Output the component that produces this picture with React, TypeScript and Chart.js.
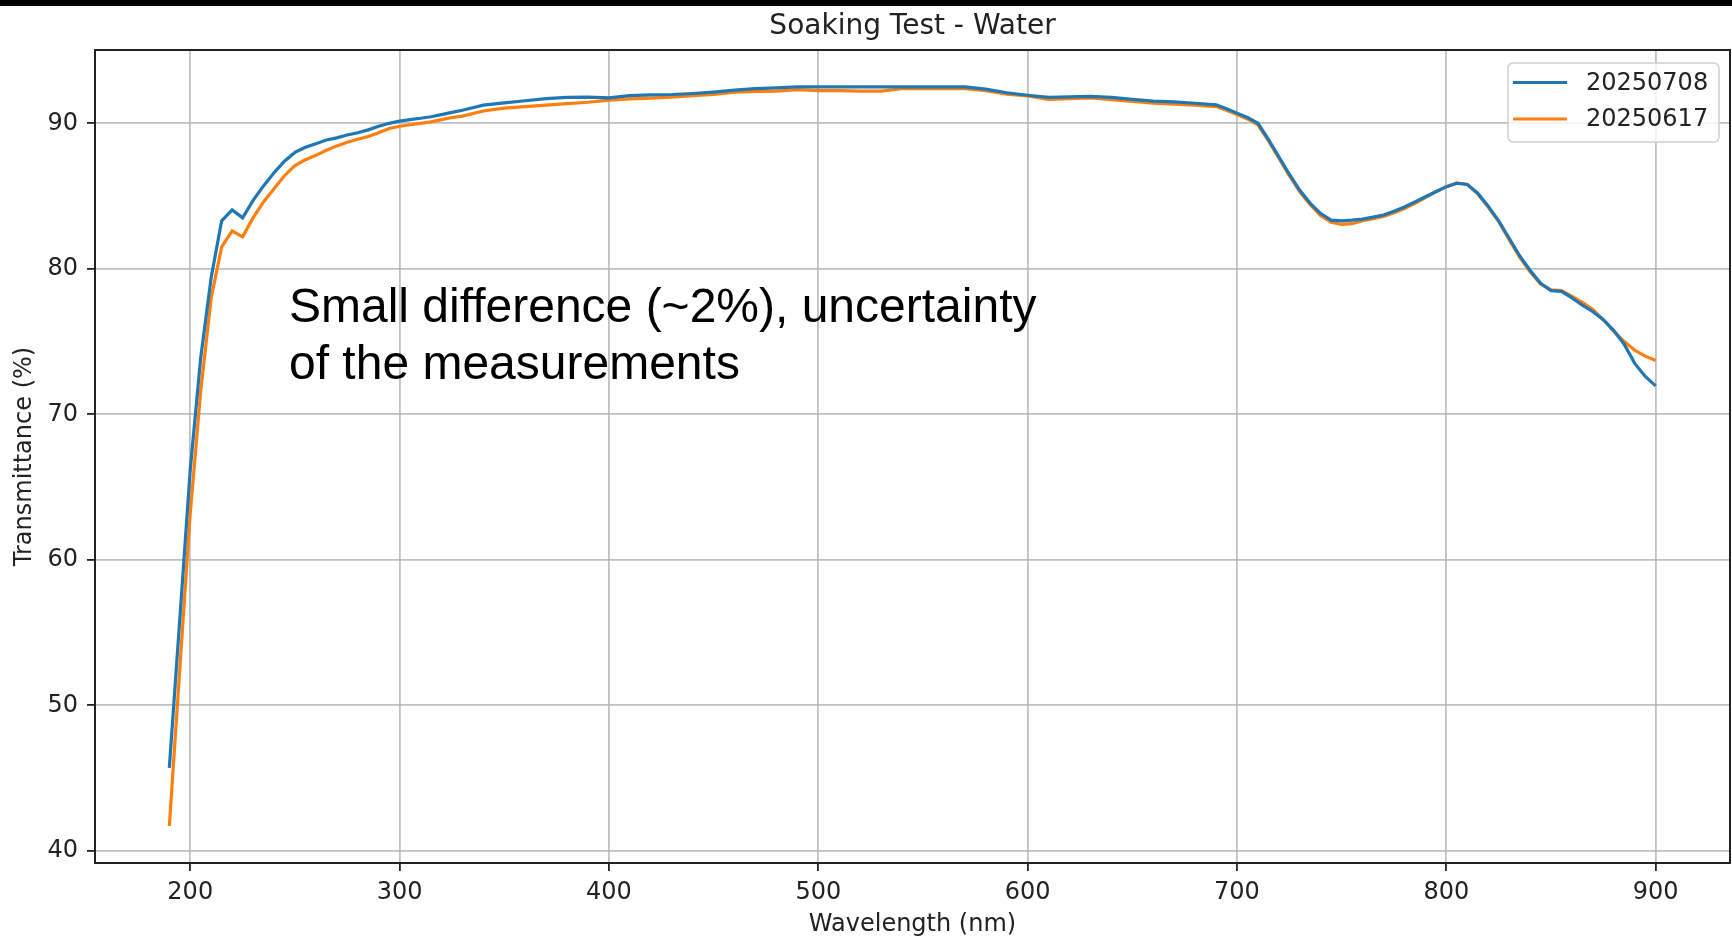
import React, { useEffect, useRef } from "react";
import { Chart, registerables } from "chart.js";

Chart.register(...registerables);

// ---------- data ----------
const wavelengths = [
  190, 195, 200, 205, 210, 215, 220, 225, 230, 235, 240, 245, 250, 255, 260, 265, 270, 275, 280, 285, 290, 295,
  300, 305, 310, 315, 320, 325, 330, 340, 350, 360, 370, 380, 390, 400, 410, 420, 430, 440, 450, 460, 470, 480,
  490, 500, 510, 520, 530, 540, 550, 560, 570, 580, 590, 600, 610, 620, 630, 640, 650, 660, 670, 680, 690, 695,
  700, 705, 710, 715, 720, 725, 730, 735, 740, 745, 750, 755, 760, 765, 770, 775, 780, 785, 790, 795, 800, 805,
  810, 815, 820, 825, 830, 835, 840, 845, 850, 855, 860, 865, 870, 875, 880, 885, 890, 895, 900,
];

const series20250708 = [
  45.7, 55.9, 66.2, 73.9, 79.4, 83.3, 84.05, 83.5, 84.7, 85.7, 86.6, 87.4, 88.0, 88.35, 88.6, 88.85, 89.0, 89.2,
  89.35, 89.55, 89.8, 90.0, 90.15, 90.25, 90.35, 90.45, 90.6, 90.75, 90.9, 91.25, 91.4, 91.55, 91.7, 91.78, 91.8,
  91.75, 91.9, 91.95, 91.98, 92.05, 92.15, 92.28, 92.38, 92.43, 92.5, 92.5, 92.5, 92.5, 92.5, 92.5, 92.5, 92.5,
  92.5, 92.35, 92.1, 91.93, 91.78, 91.82, 91.85, 91.78, 91.65, 91.52, 91.47, 91.38, 91.27, 91.0, 90.7, 90.4, 90.0,
  88.9, 87.7, 86.5, 85.4, 84.5, 83.8, 83.35, 83.3, 83.35, 83.42, 83.55, 83.7, 83.95, 84.25, 84.6, 84.95, 85.3,
  85.65, 85.88, 85.8, 85.2, 84.3, 83.3, 82.1, 80.9, 79.9, 79.0, 78.5, 78.45, 78.0, 77.5, 77.05, 76.5, 75.75, 74.8,
  73.5, 72.6, 71.95,
];

const series20250617 = [
  41.7, 52.5, 63.2, 71.6, 78.0, 81.5, 82.6, 82.2, 83.5, 84.6, 85.5, 86.4, 87.1, 87.5, 87.8, 88.15, 88.45, 88.7,
  88.9, 89.1, 89.35, 89.65, 89.8, 89.9, 90.0, 90.1, 90.25, 90.4, 90.5, 90.85, 91.05, 91.15, 91.25, 91.35, 91.45,
  91.6, 91.68, 91.73, 91.8, 91.9, 91.98, 92.15, 92.2, 92.22, 92.32, 92.25, 92.25, 92.22, 92.22, 92.38, 92.38,
  92.38, 92.38, 92.25, 92.0, 91.88, 91.65, 91.7, 91.75, 91.62, 91.5, 91.38, 91.32, 91.25, 91.15, 90.9, 90.6,
  90.3, 89.9, 88.8, 87.6, 86.4, 85.3, 84.4, 83.65, 83.2, 83.05, 83.1, 83.3, 83.45, 83.6, 83.85, 84.15, 84.5, 84.9,
  85.3, 85.65, 85.9, 85.8, 85.15, 84.25, 83.25, 82.0, 80.8, 79.8, 78.95, 78.55, 78.5, 78.1, 77.7, 77.2, 76.5,
  75.7, 75.0, 74.4, 74.0, 73.7,
];

const seriesLabels = ["20250708", "20250617"];
const seriesColors = ["#1f77b4", "#ff7f0e"];
const xTicks = [200, 300, 400, 500, 600, 700, 800, 900];
const yTicks = [40, 50, 60, 70, 80, 90];
const chartTitle = "Soaking Test - Water";
const xTitle = "Wavelength (nm)";
const yTitle = "Transmittance (%)";
const noteLines = ["Small difference (~2%), uncertainty", "of the measurements"];

// ---------- helpers ----------
const W = 1732;
const H = 941;
const FONT = '"DejaVu Sans", sans-serif';

function paddedRange(values: number[]): [number, number] {
  const lo = Math.min(...values);
  const hi = Math.max(...values);
  const m = (hi - lo) * 0.05;
  return [lo - m, hi + m];
}

const overlayPlugin = {
  id: "overlay",
  beforeDraw(chart: any) {
    const { ctx } = chart;
    ctx.save();
    ctx.fillStyle = "#ffffff";
    ctx.fillRect(0, 0, chart.width, chart.height);
    ctx.fillStyle = "#000000";
    ctx.fillRect(0, 0, chart.width, 6);
    ctx.restore();
  },
  afterDraw(chart: any) {
    const { ctx, chartArea: a } = chart;
    ctx.save();
    // spines
    ctx.strokeStyle = "#222222";
    ctx.lineWidth = 2;
    ctx.strokeRect(a.left, a.top, a.right - a.left, a.bottom - a.top);

    // title
    ctx.fillStyle = "#222222";
    ctx.font = `28px ${FONT}`;
    ctx.textAlign = "center";
    ctx.textBaseline = "alphabetic";
    ctx.fillText(chartTitle, (a.left + a.right) / 2, 34);

    // legend (matplotlib style, upper right)
    const lw = 211;
    const lh = 79;
    const lx = a.right - 11 - lw;
    const ly = a.top + 13;
    ctx.beginPath();
    ctx.roundRect(lx, ly, lw, lh, 5);
    ctx.fillStyle = "rgba(255,255,255,0.8)";
    ctx.fill();
    ctx.strokeStyle = "#d0d0d0";
    ctx.lineWidth = 1.5;
    ctx.stroke();
    chart.data.datasets.forEach((ds: any, i: number) => {
      const cy = ly + 19.5 + i * 36.5;
      ctx.beginPath();
      ctx.moveTo(lx + 5, cy);
      ctx.lineTo(lx + 59, cy);
      ctx.strokeStyle = ds.borderColor;
      ctx.lineWidth = 3.2;
      ctx.stroke();
      ctx.fillStyle = "#222222";
      ctx.font = `24px ${FONT}`;
      ctx.textAlign = "left";
      ctx.textBaseline = "middle";
      ctx.fillText(ds.label, lx + 78, cy + 1);
    });

    // annotation text
    ctx.fillStyle = "#000000";
    ctx.font = '48px "Liberation Sans", Arial, sans-serif';
    ctx.textAlign = "left";
    ctx.textBaseline = "alphabetic";
    noteLines.forEach((line, i) => ctx.fillText(line, 289, 322 + i * 57));
    ctx.restore();
  },
};

export default function App() {
  const canvasRef = useRef<HTMLCanvasElement | null>(null);

  useEffect(() => {
    const canvas = canvasRef.current;
    if (!canvas) return;
    const [xMin, xMax] = paddedRange(wavelengths);
    const [yMin, yMax] = paddedRange([...series20250708, ...series20250617]);
    const seriesValues = [series20250708, series20250617];

    const chart = new Chart(canvas, {
      type: "line",
      data: {
        datasets: seriesValues.map((vals, i) => ({
          label: seriesLabels[i],
          data: wavelengths.map((w, j) => ({ x: w, y: vals[j] })),
          borderColor: seriesColors[i],
          backgroundColor: seriesColors[i],
          borderWidth: 3.2,
          pointRadius: 0,
          tension: 0,
          fill: false,
        })),
      },
      options: {
        responsive: false,
        animation: false,
        devicePixelRatio: 1,
        layout: { padding: { top: 50, left: 0, right: 2, bottom: 0 } },
        plugins: {
          legend: { display: false },
          title: { display: false },
          tooltip: { enabled: false },
        },
        scales: {
          x: {
            type: "linear",
            min: xMin,
            max: xMax,
            afterBuildTicks: (s: any) => {
              s.ticks = xTicks.map((v) => ({ value: v }));
            },
            afterFit: (s: any) => {
              s.height = 78;
            },
            grid: {
              color: "rgba(176,176,176,0.8)",
              lineWidth: 1.8,
              tickColor: "#222222",
              tickWidth: 1.8,
              tickLength: 8,
            },
            border: { display: false },
            ticks: {
              color: "#222222",
              font: { family: FONT, size: 24 },
              padding: 7,
              maxRotation: 0,
              autoSkip: false,
              callback: (v: any) => String(v),
            },
            title: {
              display: true,
              text: xTitle,
              color: "#222222",
              font: { family: FONT, size: 24 },
              padding: { top: 0, bottom: 2 },
            },
          },
          y: {
            type: "linear",
            min: yMin,
            max: yMax,
            afterBuildTicks: (s: any) => {
              s.ticks = yTicks.map((v) => ({ value: v }));
            },
            afterFit: (s: any) => {
              s.width = 95;
            },
            grid: {
              color: "rgba(176,176,176,0.8)",
              lineWidth: 1.8,
              tickColor: "#222222",
              tickWidth: 1.8,
              tickLength: 8,
            },
            border: { display: false },
            ticks: {
              color: "#222222",
              font: { family: FONT, size: 24 },
              padding: 9,
              autoSkip: false,
              callback: (v: any) => String(v),
            },
            title: {
              display: true,
              text: yTitle,
              color: "#222222",
              font: { family: FONT, size: 24 },
              padding: { top: 10, bottom: 0 },
            },
          },
        },
      },
      plugins: [overlayPlugin],
    });

    return () => chart.destroy();
  }, []);

  return (
    <div style={{ position: "fixed", left: 0, top: 0, width: W, height: H, background: "#fff" }}>
      <canvas ref={canvasRef} width={W} height={H} style={{ display: "block", width: W, height: H }} />
    </div>
  );
}
